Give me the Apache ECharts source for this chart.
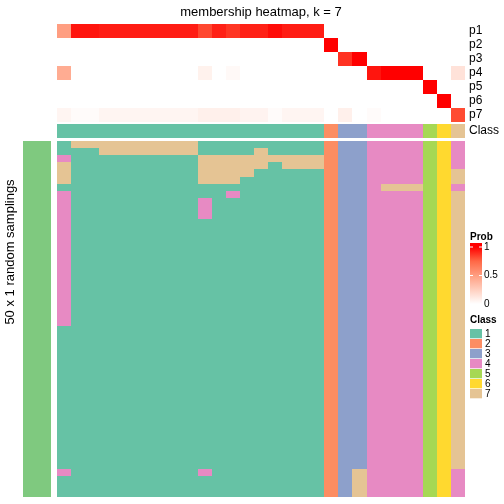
<!DOCTYPE html>
<html><head><meta charset="utf-8">
<script src="https://cdn.jsdelivr.net/npm/echarts@6/dist/echarts.min.js"></script>
<style>html,body{margin:0;padding:0;background:#fff}#c{width:504px;height:504px}</style>
</head><body><div id="c"></div>
<script>
var FONT = "'Liberation Sans', Arial, Helvetica, sans-serif";
var probRows = ['p1','p2','p3','p4','p5','p6','p7'];
var p1 = [0.50,0.95,0.95,0.93,0.93,0.93,0.93,0.93,0.93,0.93,0.83,0.92,0.87,0.92,0.92,0.97,0.93,0.93,0.93,0,0,0,0,0,0,0,0,0,0];
var p2 = [0,0,0,0,0,0,0,0,0,0,0,0,0,0,0,0,0,0,0,1,0,0,0,0,0,0,0,0,0];
var p3 = [0,0,0,0,0,0,0,0,0,0,0,0,0,0,0,0,0,0,0,0,0.88,1,0,0,0,0,0,0,0];
var p4 = [0.43,0,0,0,0,0,0,0,0,0,0.07,0,0.03,0,0,0,0,0,0,0,0,0,0.95,1,1,1,0,0,0.15];
var p5 = [0,0,0,0,0,0,0,0,0,0,0,0,0,0,0,0,0,0,0,0,0,0,0,0,0,0,1,0,0];
var p6 = [0,0,0,0,0,0,0,0,0,0,0,0,0,0,0,0,0,0,0,0,0,0,0,0,0,0,0,1,0];
var p7 = [0.05,0.02,0.02,0.05,0.05,0.05,0.05,0.05,0.05,0.05,0.08,0.08,0.08,0.06,0.06,0.02,0.05,0.05,0.05,0,0.08,0,0.02,0,0,0,0,0,0.82];
var classRow = [1,1,1,1,1,1,1,1,1,1,1,1,1,1,1,1,1,1,1,2,3,3,4,4,4,4,5,6,7];
var samplings = [
'17777777771111111112334444564',
'11177777771111711112334444564',
'41111111117777777772334444564',
'71111111117777717772334444564',
'71111111117777111112334444567',
'71111111117771111112334444567',
'11111111111111111112334777564',
'41111111111141111112334444567',
'41111111114111111112334444567',
'41111111114111111112334444567',
'41111111114111111112334444567',
'41111111111111111112334444567',
'41111111111111111112334444567',
'41111111111111111112334444567',
'41111111111111111112334444567',
'41111111111111111112334444567',
'41111111111111111112334444567',
'41111111111111111112334444567',
'41111111111111111112334444567',
'41111111111111111112334444567',
'41111111111111111112334444567',
'41111111111111111112334444567',
'41111111111111111112334444567',
'41111111111111111112334444567',
'41111111111111111112334444567',
'41111111111111111112334444567',
'11111111111111111112334444567',
'11111111111111111112334444567',
'11111111111111111112334444567',
'11111111111111111112334444567',
'11111111111111111112334444567',
'11111111111111111112334444567',
'11111111111111111112334444567',
'11111111111111111112334444567',
'11111111111111111112334444567',
'11111111111111111112334444567',
'11111111111111111112334444567',
'11111111111111111112334444567',
'11111111111111111112334444567',
'11111111111111111112334444567',
'11111111111111111112334444567',
'11111111111111111112334444567',
'11111111111111111112334444567',
'11111111111111111112334444567',
'11111111111111111112334444567',
'11111111111111111112334444567',
'41111111114111111112374444564',
'11111111111111111112374444564',
'11111111111111111112374444564',
'11111111111111111112374444564'
];
var classLabels = ['1','2','3','4','5','6','7'];
var classColors = ['#66C2A5','#FC8D62','#8DA0CB','#E78AC3','#A6D854','#FFD92F','#E5C494'];
var probColors = ['#FFFFFF','#FFCFBF','#FF9E81','#FF6846','#FF0000'];
var probTicks = ['1','0.5','0'];

var nCol = classRow.length;
var cols = []; for (var i=0;i<nCol;i++) cols.push(String(i));
var probMat = [p1,p2,p3,p4,p5,p6,p7];
var probData = [];
probMat.forEach(function(r,ri){ r.forEach(function(v,ci){ probData.push([ci,ri,v]); }); });
var classData = classRow.map(function(v,ci){ return [ci,0,v]; });
var sampData = [], sampRows = [];
samplings.forEach(function(s,ri){ sampRows.push(String(ri)); for (var ci=0;ci<s.length;ci++) sampData.push([ci,ri,+s[ci]]); });

function hid(extra){ var o={type:'category',axisLine:{show:false},axisTick:{show:false},splitLine:{show:false},axisLabel:{show:false}}; for(var k in extra)o[k]=extra[k]; return o; }
function cell(params, api){
  var p = api.coord([api.value(0), api.value(1)]);
  var s = api.size([1,1]);
  var x0 = Math.round(p[0]-s[0]/2), x1 = Math.round(p[0]+s[0]/2);
  var y0 = Math.round(p[1]-s[1]/2), y1 = Math.round(p[1]+s[1]/2);
  return {type:'rect', shape:{x:x0,y:y0,width:x1-x0,height:y1-y0}, style:{fill:api.visual('color')}};
}

var chart = echarts.init(document.getElementById('c'), null, {renderer:'canvas'});
var G = [];
G.push({type:'text',x:470,y:237,style:{text:'Prob',font:'bold 10px '+FONT,fill:'#000',textVerticalAlign:'middle'}});
var gTop = 243, gBot = 305, v1 = 247, v0 = 304;
var stops = [];
probColors.forEach(function(c,i){ var val=i/(probColors.length-1); var y=v0-(v0-v1)*val; stops.push({offset:(y-gTop)/(gBot-gTop),color:c}); });
stops.reverse();
stops.unshift({offset:0,color:'#FF0000'}); stops.push({offset:1,color:'#FFFFFF'});
G.push({type:'rect',shape:{x:470,y:gTop,width:12,height:gBot-gTop},style:{fill:new echarts.graphic.LinearGradient(0,0,0,1,stops)}});
probTicks.forEach(function(t,i){
  var y = v1 + i*(v0-v1)/2;
  if (i<2){
    G.push({type:'line',shape:{x1:470,y1:y,x2:473,y2:y},style:{stroke:'#fff',lineWidth:1}});
    G.push({type:'line',shape:{x1:479,y1:y,x2:482,y2:y},style:{stroke:'#fff',lineWidth:1}});
  }
  G.push({type:'text',x:484,y:y,style:{text:t,font:'10px '+FONT,fill:'#000',textVerticalAlign:'middle'}});
});
G.push({type:'text',x:470,y:320.5,style:{text:'Class',font:'bold 10px '+FONT,fill:'#000',textVerticalAlign:'middle'}});
classLabels.forEach(function(l,i){
  var y = 329 + i*10;
  G.push({type:'rect',shape:{x:470,y:y,width:12,height:9.3},style:{fill:classColors[i]}});
  G.push({type:'text',x:485,y:y+5,style:{text:l,font:'10px '+FONT,fill:'#000',textVerticalAlign:'middle'}});
});
G.push({type:'text',x:261,y:12,style:{text:'membership heatmap, k = 7',font:'13px '+FONT,fill:'#000',textAlign:'center',textVerticalAlign:'middle'}});
G.push({type:'text',x:10,y:252,rotation:Math.PI/2,style:{text:'50 x 1 random samplings',font:'13px '+FONT,fill:'#000',textAlign:'center',textVerticalAlign:'middle'}});
G.push({type:'text',x:37,y:319,rotation:Math.PI/2,style:{text:'top 1000 rows',font:'10px '+FONT,fill:'#000',textAlign:'center',textVerticalAlign:'middle'}});

var lab = {show:true,interval:0,margin:4,fontSize:12,fontFamily:FONT,color:'#000'};
chart.setOption({
  animation:false,
  backgroundColor:'#fff',
  grid:[
    {left:57,top:24,width:408,height:98},
    {left:57,top:124,width:408,height:14},
    {left:57,top:141,width:408,height:356},
    {left:23,top:141,width:28,height:356}
  ],
  xAxis:[hid({gridIndex:0,data:cols}),hid({gridIndex:1,data:cols}),hid({gridIndex:2,data:cols}),hid({gridIndex:3,data:['a']})],
  yAxis:[
    hid({gridIndex:0,data:probRows,inverse:true,position:'right',axisLabel:lab}),
    hid({gridIndex:1,data:['Class'],position:'right',axisLabel:lab}),
    hid({gridIndex:2,data:sampRows,inverse:true}),
    hid({gridIndex:3,data:['a']})
  ],
  visualMap:[
    {type:'continuous',show:false,min:0,max:1,dimension:2,seriesIndex:0,inRange:{color:probColors}},
    {type:'piecewise',show:false,dimension:2,seriesIndex:[1,2],pieces:classLabels.map(function(l,i){return {value:+l,color:classColors[i]};})}
  ],
  series:[
    {type:'custom',xAxisIndex:0,yAxisIndex:0,data:probData,renderItem:cell,encode:{x:0,y:1}},
    {type:'custom',xAxisIndex:1,yAxisIndex:1,data:classData,renderItem:cell,encode:{x:0,y:1}},
    {type:'custom',xAxisIndex:2,yAxisIndex:2,data:sampData,renderItem:cell,encode:{x:0,y:1}},
    {type:'custom',xAxisIndex:3,yAxisIndex:3,data:[[0,0,1]],renderItem:cell,encode:{x:0,y:1},itemStyle:{color:'#7FC97F'}}
  ],
  graphic:G
});
</script></body></html>
